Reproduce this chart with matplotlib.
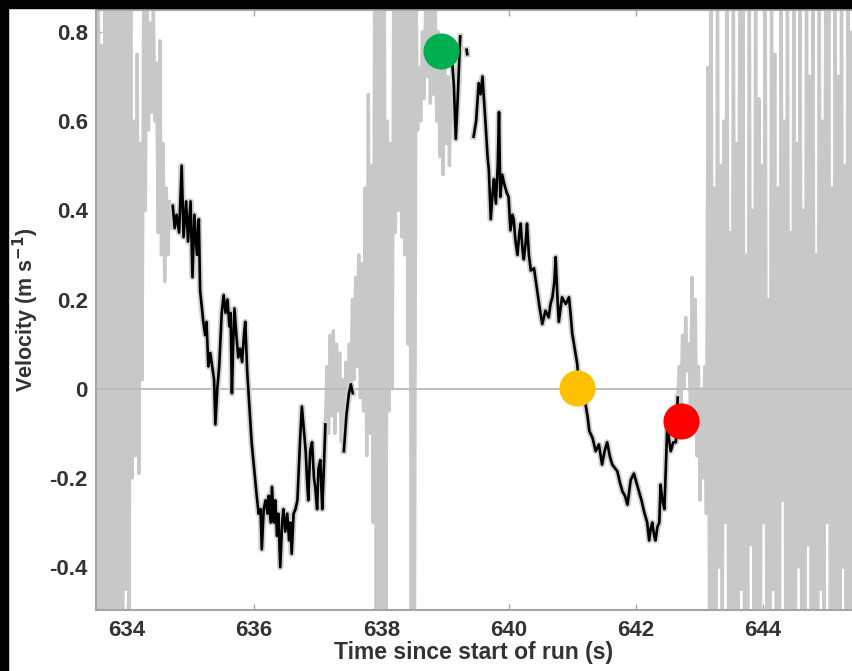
import numpy as np
import matplotlib
matplotlib.use("Agg")
import matplotlib.pyplot as plt
from matplotlib.patches import Rectangle

plt.rcParams['font.family'] = ['Liberation Sans', 'DejaVu Sans']
plt.rcParams['axes.unicode_minus'] = False

# raw (noisy) velocity, gray, sampled regularly inside each noisy stretch
raw_a_start, raw_a_end = 633.5, 634.72
raw_a = [0.95, -0.6, 0.9, -0.7, 0.77, -0.6, 0.9, -0.55, 0.95, -0.6, 1.0, -0.65,
         0.9, -0.6, 0.95, -0.5, 0.85, -0.55, 0.9, -0.45, 0.95, -0.5, 0.9, -0.2,
         0.6, -0.15, 0.75, -0.19, 0.55, 0.02, 0.9, 0.4, 0.95, 0.58, 0.82, 0.62,
         0.85, 0.6, 0.73, 0.35, 0.78, 0.3, 0.55, 0.24, 0.45, 0.3, 0.42, 0.36, 0.41]

raw_b_start, raw_b_end = 637.12, 639.12
raw_b = [-0.08, 0.05, -0.1, 0.12, -0.06, 0.13, -0.1, 0.1, -0.05, 0.08, -0.12, 0.02,
         -0.1, 0.06, -0.03, 0.1, 0.0, 0.2, 0.02, 0.25, 0.05, 0.3, -0.02, 0.28,
         -0.05, 0.45, -0.15, 0.66, -0.1, 0.5, -0.3, 0.95, -0.6, 0.95, -0.6, 0.95,
         -0.55, 1.0, -0.6, 0.6, -0.05, 0.55, 0.0, 0.95, 0.35, 0.95, 0.4, 1.0,
         0.34, 0.9, 0.3, 0.95, 0.1, 0.95, -0.6, 1.0, -0.6, 0.9, 0.58, 0.72,
         0.6, 0.8, 0.65, 0.85, 0.7, 0.95, 0.64, 0.95, 0.66, 0.9, 0.6, 0.8,
         0.52, 0.76, 0.48, 0.72, 0.55, 0.7, 0.5, 0.68, 0.68]

raw_c_start, raw_c_end = 642.66, 645.46
raw_c = [-0.02, 0.05, -0.05, 0.12, 0.0, 0.16, 0.04, 0.1, -0.05, 0.25, -0.08, 0.2,
         -0.15, 0.05, -0.25, 0.0, -0.2, 0.05, -0.28, 0.72, -0.55, 0.95, -0.6, 0.45,
         -0.55, 0.95, -0.4, 0.5, -0.6, 0.6, -0.3, 0.95, -0.55, 0.35, -0.6, 0.95,
         -0.5, 0.55, -0.6, 0.95, -0.45, 0.85, -0.6, 0.3, -0.55, 0.95, -0.35, 0.4,
         -0.6, 0.95, -0.5, 0.65, -0.6, 0.5, -0.3, 0.95, -0.6, 0.2, -0.55, 0.95,
         -0.45, 0.75, -0.6, 0.45, -0.6, 0.95, -0.25, 0.6, -0.6, 0.95, -0.5, 0.35,
         -0.6, 0.95, -0.55, 0.55, -0.4, 0.9, -0.6, 0.4, -0.6, 0.95, -0.35, 0.7,
         -0.6, 0.95, -0.5, 0.3, -0.6, 0.95, -0.45, 0.6, -0.6, 0.85, -0.3, 0.95,
         -0.6, 0.45, -0.55, 0.95, -0.5, 0.7, -0.6, 0.95, -0.4, 0.5, -0.6, 0.95,
         -0.5, 0.8, -0.6, 0.6, -0.3]

# filtered velocity (black), nan marks the gaps
nan = np.nan
filt_t = [634.72, 634.75, 634.78, 634.82, 634.86, 634.89, 634.93, 634.96, 635.00, 635.03,
          635.06, 635.10, 635.13, 635.15, 635.20, 635.23, 635.25, 635.28, 635.31, 635.34,
          635.37, 635.39, 635.42, 635.45, 635.49, 635.52, 635.55, 635.58, 635.61, 635.63,
          635.65, 635.67, 635.69, 635.72, 635.75, 635.78, 635.81, 635.84, 635.86, 635.89,
          635.92, 635.96, 636.00, 636.04, 636.07, 636.10, 636.12, 636.15, 636.18, 636.21,
          636.23, 636.26, 636.28, 636.31, 636.33, 636.36, 636.38, 636.41, 636.44, 636.46,
          636.49, 636.52, 636.55, 636.57, 636.59, 636.62, 636.65, 636.68, 636.72, 636.75,
          636.78, 636.81, 636.83, 636.85, 636.88, 636.91, 636.94, 636.96, 636.99, 637.01,
          637.04, 637.07, 637.09, 637.12, 637.2,
          637.41, 637.45, 637.49, 637.52, 637.55, 638.0,
          639.11, 639.14, 639.17, 639.20, 639.24, 639.3,
          639.34, 639.35, 639.4,
          639.45, 639.49, 639.53, 639.56, 639.59, 639.64, 639.67, 639.69, 639.72, 639.75,
          639.77, 639.80, 639.83, 639.85, 639.87, 639.90, 639.93, 639.97, 640.00, 640.03,
          640.06, 640.08, 640.11, 640.14, 640.17, 640.19, 640.22, 640.24, 640.27, 640.29,
          640.32, 640.35, 640.40, 640.43, 640.45, 640.49, 640.53, 640.58, 640.63, 640.66,
          640.69, 640.72, 640.74, 640.77, 640.79, 640.84, 640.90, 640.95, 640.98, 641.00,
          641.04, 641.08, 641.11, 641.16, 641.21, 641.24, 641.27, 641.32, 641.37, 641.42,
          641.47, 641.51, 641.55, 641.59, 641.63, 641.71, 641.75, 641.79, 641.83, 641.87,
          641.92, 641.97, 642.01, 642.05, 642.09, 642.13, 642.18, 642.21, 642.24, 642.26,
          642.29, 642.31, 642.34, 642.37, 642.39, 642.42, 642.45, 642.50, 642.52, 642.55,
          642.59, 642.63, 642.66]
filt_v = [0.41, 0.36, 0.39, 0.35, 0.50, 0.34, 0.42, 0.33, 0.42, 0.25,
          0.39, 0.30, 0.38, 0.22, 0.15, 0.12, 0.15, 0.05, 0.08, 0.05,
          0.02, -0.08, 0.00, 0.05, 0.17, 0.21, 0.17, 0.20, 0.14, 0.17,
          -0.01, 0.10, 0.18, 0.12, 0.07, 0.09, 0.06, 0.12, 0.15, 0.04,
          -0.03, -0.12, -0.18, -0.24, -0.28, -0.27, -0.36, -0.27, -0.25, -0.28,
          -0.24, -0.30, -0.22, -0.30, -0.25, -0.33, -0.28, -0.40, -0.30, -0.27,
          -0.32, -0.28, -0.34, -0.30, -0.37, -0.28, -0.27, -0.25, -0.12, -0.04,
          -0.09, -0.14, -0.20, -0.25, -0.14, -0.12, -0.20, -0.22, -0.27, -0.18,
          -0.16, -0.27, -0.20, -0.08, nan,
          -0.14, -0.06, -0.01, 0.01, -0.01, nan,
          0.74, 0.68, 0.56, 0.65, 0.79, nan,
          0.76, 0.75, nan,
          0.565, 0.60, 0.685, 0.66, 0.70, 0.59, 0.52, 0.49, 0.38, 0.44,
          0.47, 0.415, 0.50, 0.62, 0.43, 0.48, 0.46, 0.44, 0.43, 0.355,
          0.39, 0.38, 0.33, 0.30, 0.35, 0.37, 0.31, 0.29, 0.33, 0.37,
          0.30, 0.265, 0.27, 0.24, 0.22, 0.18, 0.145, 0.175, 0.16, 0.19,
          0.205, 0.24, 0.295, 0.20, 0.15, 0.205, 0.19, 0.205, 0.16, 0.125,
          0.09, 0.055, -0.005, -0.01, -0.035, -0.06, -0.095, -0.11, -0.14, -0.125,
          -0.17, -0.14, -0.12, -0.15, -0.17, -0.185, -0.21, -0.23, -0.24, -0.26,
          -0.205, -0.19, -0.21, -0.23, -0.25, -0.275, -0.30, -0.34, -0.31, -0.30,
          -0.33, -0.34, -0.31, -0.30, -0.215, -0.25, -0.27, -0.065, -0.11, -0.14,
          -0.12, -0.12, -0.02]

# highlighted instants
mark_t = [638.93, 641.07, 642.71]
mark_v = [0.757, 0.002, -0.072]
mark_colors = ['#00b050', '#ffc000', '#ff0000']

xticks = [634, 636, 638, 640, 642, 644]
yticks = [-0.4, -0.2, 0, 0.2, 0.4, 0.6, 0.8]
ytick_labels = ['-0.4', '-0.2', '0', '0.2', '0.4', '0.6', '0.8']

gray = '#c8c8c8'
txt = '#333333'

fig = plt.figure(figsize=(8.52, 6.71), dpi=100)
ax = fig.add_axes([96 / 852, 61 / 671, 756 / 852, 600 / 671])

for t0, t1, vals in [(raw_a_start, raw_a_end, raw_a),
                     (raw_b_start, raw_b_end, raw_b),
                     (raw_c_start, raw_c_end, raw_c)]:
    ax.plot(np.linspace(t0, t1, len(vals)), vals, color=gray, lw=2.4, zorder=2)

ax.axhline(0, color='#bdbdbd', lw=1.4, zorder=2.5)

ax.plot(filt_t, filt_v, color='#d0d0d0', lw=4.5, zorder=3)
ax.plot(filt_t, filt_v, color='black', lw=1.9, zorder=4)

for t, v, c in zip(mark_t, mark_v, mark_colors):
    ax.plot(t, v, 'o', ms=26, color=c, mec='none', zorder=5)

ax.set_xlim(633.513, 645.4)
ax.set_ylim(-0.496, 0.849)
ax.set_xticks(xticks)
ax.set_xticklabels([str(x) for x in xticks])
ax.set_yticks(yticks)
ax.set_yticklabels(ytick_labels)

for s in ['top', 'left', 'bottom']:
    ax.spines[s].set_color('#a6a6a6')
    ax.spines[s].set_linewidth(1.5)
ax.spines['right'].set_visible(False)
ax.tick_params(direction='in', length=4, width=1, color='#a6a6a6',
               top=True, right=False, labelsize=16, labelcolor=txt)
ax.tick_params(axis='x', pad=7)
ax.tick_params(axis='y', pad=6)
for lab in ax.get_xticklabels() + ax.get_yticklabels():
    lab.set_fontweight('bold')

ax.set_xlabel('Time since start of run (s)', fontsize=16.5, fontweight='bold',
              color=txt, labelpad=0)
ax.set_ylabel('Velocity (m s$^{\\mathbf{-1}}$)', fontsize=15.5, fontweight='bold',
              color=txt, labelpad=6)

# black frame strips along the left and top edge of the picture
fig.patches.append(Rectangle((0, 0), 8 / 852, 1, transform=fig.transFigure,
                             color='black', zorder=10))
fig.patches.append(Rectangle((0, 1 - 8 / 671), 1, 8 / 671, transform=fig.transFigure,
                             color='black', zorder=10))

fig.savefig('out.png', dpi=100)
